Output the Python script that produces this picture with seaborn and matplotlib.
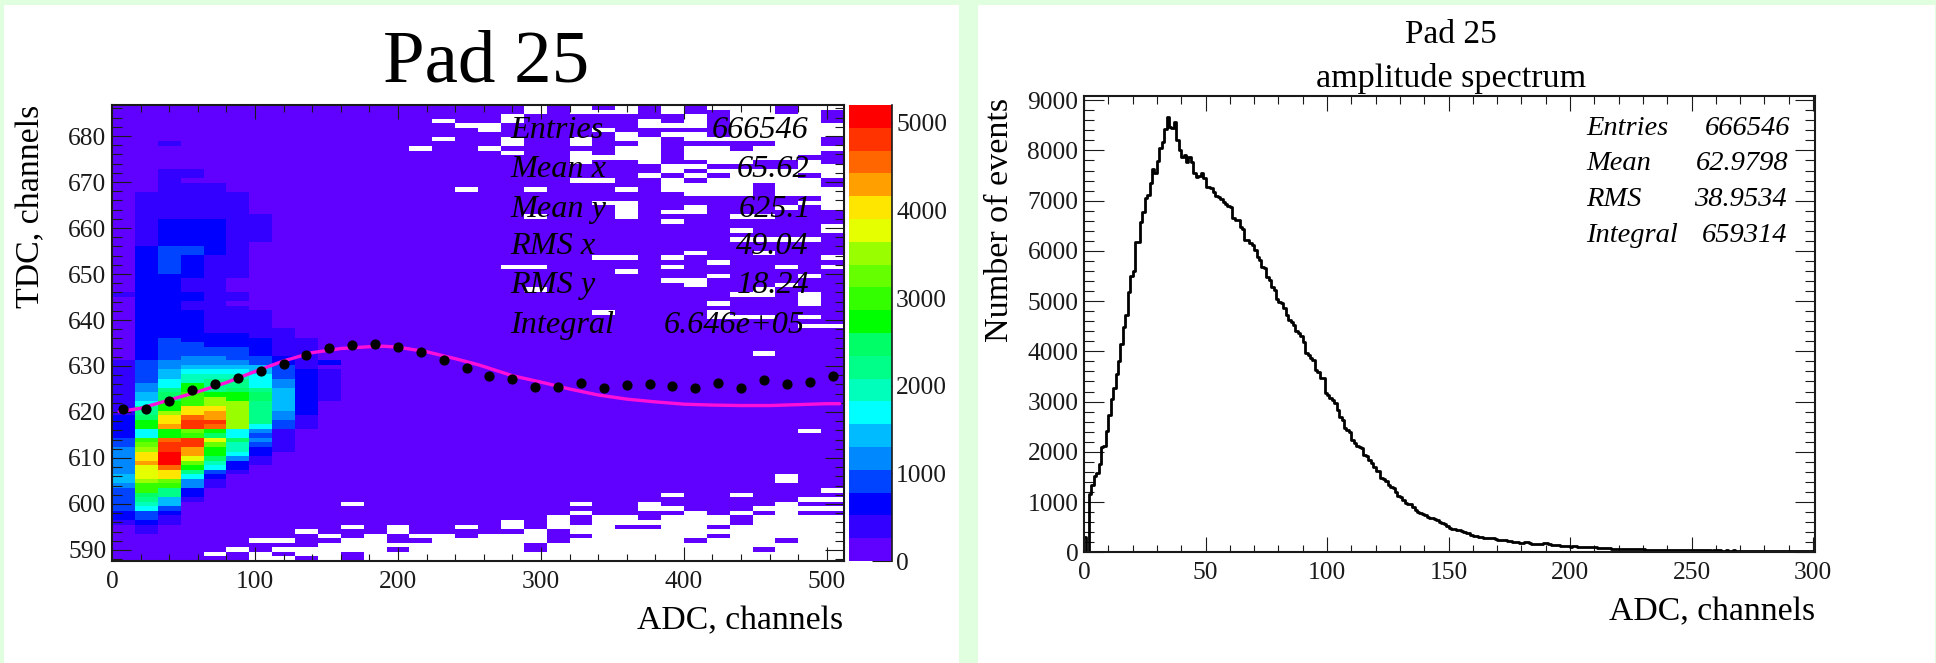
import numpy as np
import matplotlib
matplotlib.use("Agg")
import matplotlib.pyplot as plt
from matplotlib.colors import ListedColormap
from matplotlib.patches import Rectangle
from matplotlib.ticker import MultipleLocator
import seaborn as sns

# ---------- data ----------
PALETTE = ["#6000FF", "#3300FF", "#0000FF", "#0044FF", "#0088FF", "#00BBFF", "#00FFFF",
           "#00FFBB", "#00FF88", "#00FF66", "#00FF00", "#33FF00", "#66FF00", "#99FF00",
           "#E6FF00", "#FFE600", "#FFA000", "#FF6600", "#FF3300", "#FF0000"]
BAND_WIDTH = 260
# per ADC column (16 channels wide): (row where the run stops, colour band), rows from the top
COLUMN_RUNS = [
    [(41,0),(42,1),(56,0),(68,1),(73,2),(75,3),(81,4),(83,5),(84,4),(89,3),(91,2),(92,1),(100,0)],
    [(19,0),(31,1),(56,2),(61,3),(63,4),(65,5),(66,6),(68,8),(69,9),(71,10),(73,6),(74,11),(75,12),(76,13),(78,15),(79,16),(82,14),(83,13),(85,11),(86,9),(87,8),(88,7),(89,6),(91,3),(92,2),(94,1),(100,0)],
    [(8,0),(9,1),(14,0),(25,1),(31,2),(37,3),(51,2),(56,3),(58,4),(60,5),(62,6),(63,8),(65,9),(67,10),(68,13),(70,15),(71,16),(73,10),(74,17),(76,18),(79,19),(80,17),(82,15),(83,12),(84,11),(86,8),(88,5),(89,3),(90,2),(92,1),(100,0)],
    [(14,0),(16,1),(17,0),(25,1),(31,2),(33,3),(38,2),(41,1),(43,2),(45,1),(52,2),(55,3),(57,4),(58,5),(59,6),(61,7),(63,10),(66,11),(68,15),(69,17),(71,18),(72,12),(73,11),(75,18),(77,16),(78,14),(79,12),(80,10),(81,8),(82,6),(84,4),(86,2),(87,1),(100,0)],
    [(17,0),(25,1),(33,2),(50,1),(53,2),(55,3),(57,4),(58,5),(59,6),(60,7),(63,8),(64,10),(66,13),(67,15),(69,16),(70,18),(71,17),(72,10),(73,9),(74,14),(75,12),(77,10),(78,9),(79,7),(80,6),(81,3),(82,2),(84,1),(100,0)],
    [(19,0),(38,1),(41,0),(43,1),(44,0),(50,1),(53,2),(56,3),(57,4),(58,5),(59,6),(60,7),(62,8),(63,9),(65,10),(71,13),(73,6),(74,9),(76,7),(77,6),(78,4),(80,2),(81,1),(100,0)],
    [(24,0),(30,1),(45,0),(51,1),(55,2),(57,3),(59,5),(62,6),(63,8),(65,9),(70,8),(71,6),(72,4),(73,3),(74,4),(75,3),(77,2),(79,1),(100,0)],
    [(49,0),(55,1),(57,2),(60,3),(62,4),(67,5),(69,4),(71,3),(76,1),(100,0)],
    [(51,0),(58,1),(68,2),(71,1),(100,0)],
    [(56,0),(57,2),(58,0),(65,1),(100,0)],
]
# empty (white) cells, upper part: row -> columns
EMPTY_UPPER = {
    0: [18,20,22,24,26,27,28,30,31], 1: [18,20,21,22,24,27,28,30], 2: [17,25,27,28,29,30],
    3: [14,17,23,25,27,28,29,30], 4: [15,16,23,24,25,27,28,29,30,31], 5: [16,21,27,28,29,30,31],
    6: [22,24,25,27,28,29,30,31], 7: [14,17,20,22,23,25,26,27,28,29,30], 8: [17,20,23,29,30],
    9: [13,16,22,23,25,26,28,29,30,31], 10: [17,20,22,23,25,26,27,28,29,30],
    11: [20,21,22,23,25,26,27,28,29], 12: [20,23,26,27,30], 13: [24,25,30,31],
    14: [24,26,27,28,29,30,31], 15: [23,25,27,28,29,31], 16: [20,21,24,26,27,28,29,30],
    17: [24,25,26,27,29,30], 18: [15,18,22,24,25,26,27,29,30,31], 19: [25,26,27,29,30,31],
    20: [31], 21: [21,22,30,31], 22: [22,25,29,31], 23: [22,24,25], 24: [18,22,27,28],
    25: [24], 26: [31], 27: [27,31], 29: [27,28,29,30], 32: [25,28], 33: [21,22,24,31],
    34: [26], 35: [17,18,24,29,31], 36: [22], 37: [26,30], 38: [24,25], 39: [25,29],
    40: [18,28], 41: [27,28,30], 42: [30], 43: [26,30], 45: [21,26], 46: [26,27,28,30],
    48: [30,31], 54: [28], 71: [30], 81: [29], 82: [29], 84: [31], 85: [24,27],
    86: [30,31], 87: [10,20,23,29], 88: [23,24,28,29,30,31], 89: [20,25,27,29],
}
# empty cells, lower part: column -> rows
EMPTY_LOWER = {
    4: [98], 5: [97], 6: [95,98,99], 7: [95,97,99], 8: [93,97,98], 9: [94,96,97,98,99],
    10: [92,95,96,97], 11: [94,95,96,97,98,99], 12: [92,93,96,98,99], 13: [94,96,97,98,99],
    14: [94,95,96,97,98,99], 15: [92,95,96,97,98,99], 16: [94,95,96,97,98,99],
    17: [91,92,94,95,96,97,98,99], 18: [93,94,95,98,99], 19: [90,91,92,96,97,98,99],
    20: [92,93,95,96,97,98,99], 21: [90,91,92,93,94,95,96,97,98,99],
    22: [90,91,93,94,95,96,97,98,99], 23: [91,93,94,95,96,97,98,99],
    24: [90,91,92,93,94,95,96,97,98,99], 25: [90,91,92,93,94,96,97,98,99],
    26: [90,91,93,95,96,97,98,99], 27: [92,93,94,95,96,97,98,99],
    28: [90,91,92,93,94,95,96,98,99], 29: [90,91,92,93,94,96,97,98,99],
    30: [90,91,92,93,94,95,96,97,98,99], 31: [90,91,92,93,94,95,96,97,98,99],
}
PROFILE_TDC = [620.7,620.7,622.3,624.7,626.1,627.4,628.9,630.4,632.5,634.0,634.6,634.8,
               634.2,633.1,631.2,629.6,627.9,627.2,625.4,625.5,626.4,625.3,625.8,626.0,
               625.6,625.2,626.2,625.3,627.0,626.1,626.6,627.9]
PROFILE_ADC = [8,24,40,56,72,88,104,120,136,152,168,184,200,216,232,248,
               264,280,296,312,328,344,360,376,392,408,424,440,456,472,488,504]
FIT_ADC = [5,20,40,60,80,100,120,140,160,180,190,200,220,240,257,280,300,320,340,360,380,400,420,440,460,480,500,509]
FIT_TDC = [620.1,620.8,622.6,624.4,626.4,628.8,631.1,632.9,633.8,634.2,634.3,634.1,633.1,631.6,630.2,627.9,626.5,625.0,
           623.7,622.8,622.2,621.7,621.5,621.4,621.4,621.6,621.8,621.8]

SPECTRUM = [
    300,0,1155,1340,1526,1586,1752,2097,2110,2415,2734,3052,3278,3543,3809,4140,4492,4725,5175,5508,
    5607,6171,6171,6569,6781,7047,7113,7346,7631,7545,7790,8042,8162,8427,8666,8474,8441,8560,8208,8009,
    7877,7910,7777,7877,7777,7545,7479,7492,7545,7445,7280,7266,7246,7166,7100,7067,7027,6981,6928,6901,
    6881,6649,6616,6616,6483,6437,6218,6218,6151,6118,6019,5886,5820,5687,5667,5488,5421,5289,5222,5036,
    4977,4957,4857,4725,4625,4592,4525,4413,4360,4313,4180,3961,3928,3862,3829,3630,3597,3464,3464,3165,
    3132,3066,3032,2979,2833,2701,2634,2482,2435,2402,2236,2170,2123,2097,2070,1938,1924,1838,1785,1705,
    1619,1619,1473,1453,1420,1340,1307,1274,1208,1128,1108,1042,975,955,962,909,843,810,776,770,
    743,710,690,675,660,640,600,585,560,520,480,470,460,450,445,420,400,385,380,350,
    325,315,305,295,285,285,285,280,280,265,252,245,240,235,232,220,212,205,200,195,
    192,200,205,185,166,168,166,170,172,176,180,165,153,145,139,136,133,128,126,120,
    113,118,119,110,106,102,100,104,100,96,98,93,90,86,84,80,76,73,75,72,
    70,71,66,64,60,63,60,58,61,60,56,53,55,50,52,48,55,50,46,44,
    48,46,42,50,45,44,40,46,42,38,44,40,42,36,40,38,44,36,34,40,
    36,38,34,32,38,34,30,36,32,34,30,34,28,32,30,28,32,30,26,30,
    28,30,26,28,30,26,24,28,26,24,28,24,26,22,26,24,22,26,24,22,
]
SPECTRUM_CHANNELS = list(range(300))

STATS_2D = [("Entries", "666546"), ("Mean x", "65.62"), ("Mean y", "625.1"),
            ("RMS x", "49.04"), ("RMS y", "18.24"), ("Integral", "6.646e+05")]
STATS_1D = [("Entries", "666546"), ("Mean", "62.9798"), ("RMS", "38.9534"), ("Integral", "659314")]

# ---------- style and layout ----------
W, H = 1936, 663
sns.set_theme(style="ticks")
plt.rcParams["font.family"] = ["Liberation Serif", "DejaVu Serif"]
plt.rcParams["axes.grid"] = False
fig = plt.figure(figsize=(W / 100, H / 100), dpi=100, facecolor="#DFFFDF")

def box(x0, y0, x1, y1):
    return [x0 / W, 1 - y1 / H, (x1 - x0) / W, (y1 - y0) / H]

def label(x, y, s, size, **kw):
    kw.setdefault("va", "baseline")
    fig.text(x / W, 1 - y / H, s, fontsize=size, color="black", **kw)

fig.add_artist(Rectangle((3.5 / W, 0), 955.5 / W, 1 - 5 / H, transform=fig.transFigure, fc="white", ec="none", zorder=-5))
fig.add_artist(Rectangle((978 / W, 0), 957 / W, 1 - 5 / H, transform=fig.transFigure, fc="white", ec="none", zorder=-5))

def root_axes(ax, xmaj, xmin, ymaj, ymin, lx, ly, padx, pady):
    ax.xaxis.set_major_locator(MultipleLocator(xmaj))
    ax.xaxis.set_minor_locator(MultipleLocator(xmin))
    ax.yaxis.set_major_locator(MultipleLocator(ymaj))
    ax.yaxis.set_minor_locator(MultipleLocator(ymin))
    ax.tick_params(axis="x", which="major", direction="in", top=True, bottom=True, length=lx * .72, width=.8, labelsize=18.4, pad=padx, color="k", labelcolor="k")
    ax.tick_params(axis="x", which="minor", direction="in", top=True, bottom=True, length=lx * .36, width=.8, color="k")
    ax.tick_params(axis="y", which="major", direction="in", left=True, right=True, length=ly * .72, width=.8, labelsize=18.4, pad=pady, color="k", labelcolor="k")
    ax.tick_params(axis="y", which="minor", direction="in", left=True, right=True, length=ly * .36, width=.8, color="k")
    for s in ax.spines.values():
        s.set_visible(True)
        s.set_linewidth(1.5)
        s.set_color("k")
    ax.set_xlabel("")
    ax.set_ylabel("")

# ---------- left panel ----------
levels = np.zeros((100, 32))
for col, runs in enumerate(COLUMN_RUNS):
    start = 0
    for stop, band in runs:
        levels[start:stop, col] = band
        start = stop
counts = (levels + 0.5) * BAND_WIDTH
for row, cols in EMPTY_UPPER.items():
    counts[row, cols] = np.nan
for col, rows in EMPTY_LOWER.items():
    counts[rows, col] = np.nan

ax_map = fig.add_axes(box(112, 105, 844, 561), facecolor="white")
ax_cb = fig.add_axes(box(849, 105, 892, 561))
sns.heatmap(counts, ax=ax_map, cbar_ax=ax_cb, cmap=ListedColormap(PALETTE), vmin=0, vmax=20 * BAND_WIDTH + 5,
            xticklabels=False, yticklabels=False, cbar_kws={"ticks": [0, 1000, 2000, 3000, 4000, 5000]})
ax_map.tick_params(length=0)
cb = ax_map.collections[0].colorbar
cb.outline.set_visible(False)
ax_cb.spines["right"].set_visible(True)
ax_cb.spines["right"].set_linewidth(1.2)
ax_cb.spines["right"].set_color("k")
ax_cb.tick_params(axis="y", direction="in", length=14.4, width=.8, labelsize=18.4, pad=3, color="k", labelcolor="k", right=True, left=False)

ax = fig.add_axes(box(112, 105, 844, 561), facecolor="none")
sns.lineplot(x=FIT_ADC, y=FIT_TDC, ax=ax, color="#FF10D8", linewidth=2.4, zorder=3, errorbar=None, sort=False)
sns.scatterplot(x=PROFILE_ADC, y=PROFILE_TDC, ax=ax, color="black", s=54, linewidth=0, zorder=4)
ax.set_xlim(0, 512)
ax.set_ylim(587.6, 686.75)
root_axes(ax, 100, 20, 10, 2, 14, 19, 7, 4)

label(486, 82, "Pad 25", 54, ha="center")
label(843, 629, "ADC, channels", 24.3, ha="right")
label(39, 105, "TDC, channels", 24.4, rotation=90, ha="right", rotation_mode="anchor")
stat_base = [138, 177, 217, 254, 293, 333]
stat_right = [808, 809, 811, 809, 809, 805]
for (name, val), yb, xr in zip(STATS_2D, stat_base, stat_right):
    label(510, yb, name, 23.2, style="italic")
    label(xr, yb, val, 23.2, style="italic", ha="right")

# ---------- right panel ----------
ax2 = fig.add_axes(box(1084, 95.7, 1815, 552.3), facecolor="white")
sns.histplot(x=SPECTRUM_CHANNELS, weights=SPECTRUM, binwidth=1, binrange=(0, 300), element="step", fill=False,
             color="black", linewidth=2.0, ax=ax2)
ax2.set_xlim(0, 300.8)
ax2.set_ylim(0, 9089)
root_axes(ax2, 50, 10, 1000, 200, 15, 20, 7, 4)

label(1451, 43, "Pad 25", 24, ha="center")
label(1451, 87, "amplitude spectrum", 24.6, ha="center")
label(1815, 620, "ADC, channels", 24.3, ha="right")
label(1008, 98, "Number of events", 24.6, rotation=90, ha="right", rotation_mode="anchor")
for (name, val), yb, xr in zip(STATS_1D, [135, 170, 206.5, 241.5], [1790, 1788, 1787, 1787]):
    label(1586, yb, name, 20.5, style="italic")
    label(xr, yb, val, 20.5, style="italic", ha="right")

fig.savefig("out.png", dpi=100, facecolor=fig.get_facecolor())
